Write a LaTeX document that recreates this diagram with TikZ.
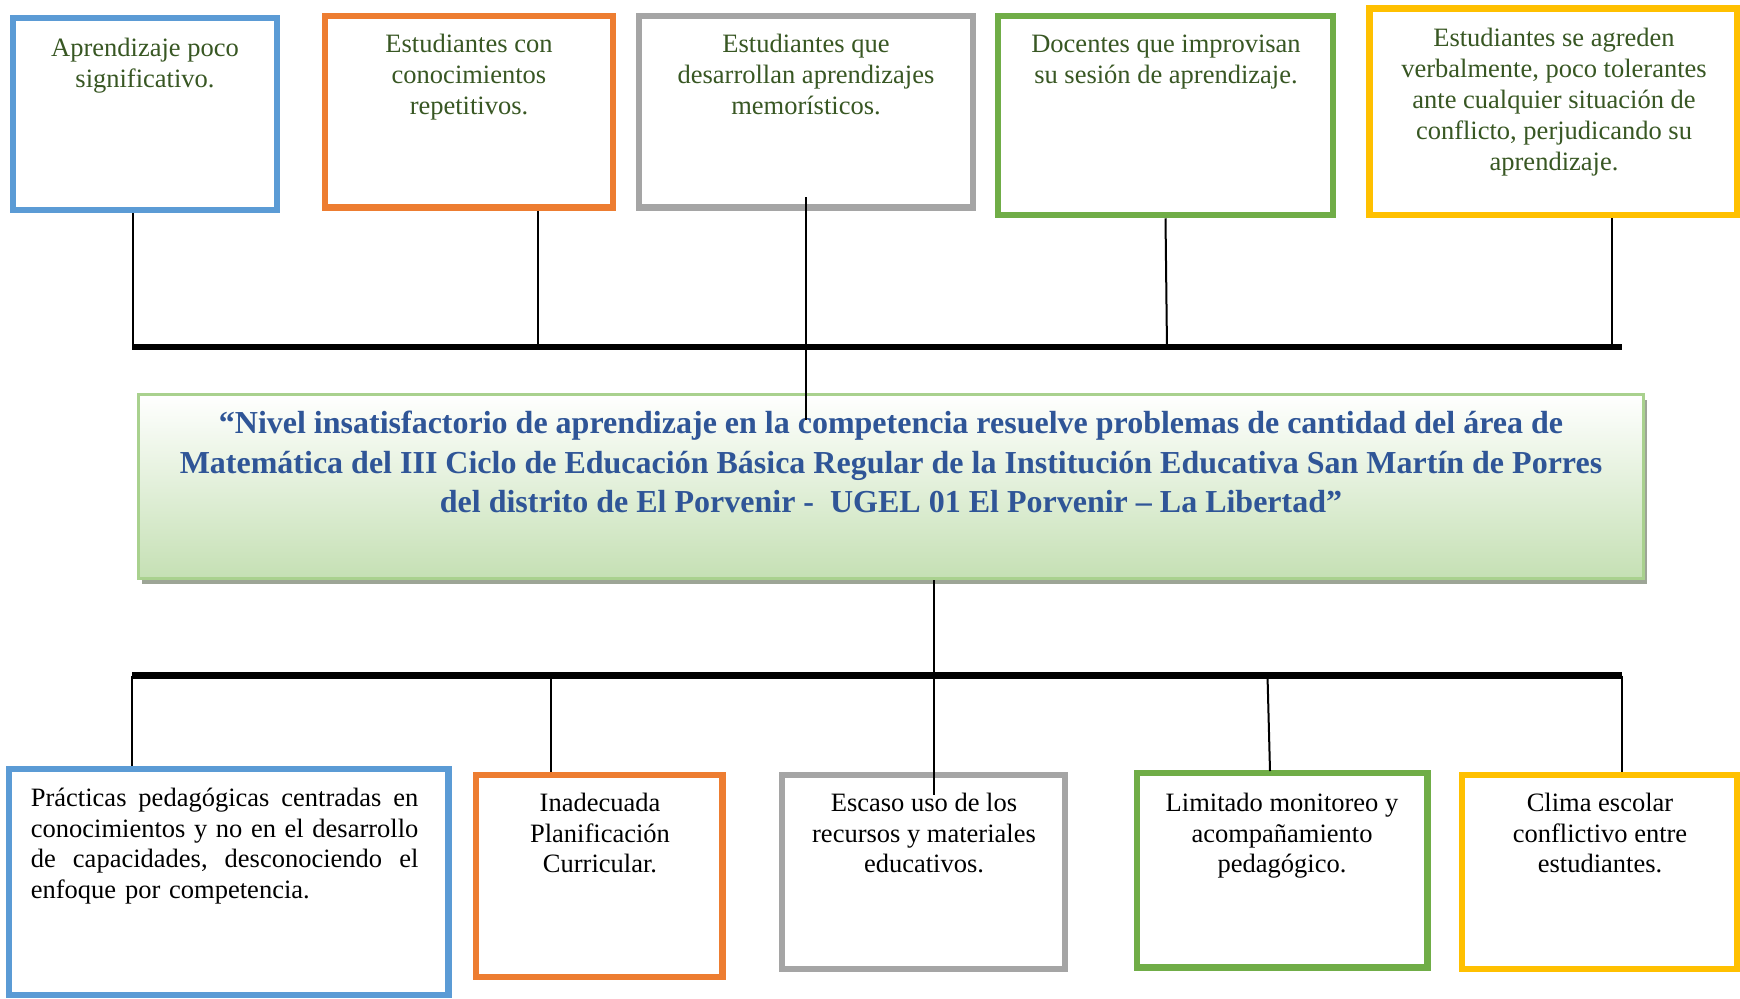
\documentclass[tikz,border=0pt]{standalone}
\usepackage{fontspec}
\setmainfont{Liberation Serif}
\usetikzlibrary{calc,shadows}
\definecolor{cblue}{HTML}{5B9BD5}
\definecolor{corange}{HTML}{ED7D31}
\definecolor{cgray}{HTML}{A5A5A5}
\definecolor{cgreen}{HTML}{70AD47}
\definecolor{cyellow}{HTML}{FFC000}
\definecolor{tgreen}{HTML}{385723}
\definecolor{tblue}{HTML}{2F5597}
\definecolor{lgreen}{HTML}{A9D18E}
\definecolor{fgreen}{HTML}{C5E0B4}
\definecolor{shadowc}{HTML}{9DA596}
\newcommand\jline[1]{\leavevmode\hbox to 193.75pt{#1}}
\tikzset{
  cbox/.style={draw=#1, line width=3.25pt, fill=white, rectangle, inner sep=0pt},
  toptext/.style={font=\fontsize{13.25}{15.5}\selectfont, text=tgreen, align=center, inner sep=0pt, anchor=north},
  bottext/.style={font=\fontsize{13.25}{15.25}\selectfont, text=black, align=center, inner sep=0pt, anchor=north},
  bus/.style={line width=3.4pt, black},
  conn/.style={line width=1pt, black},
}
\begin{document}
\begin{tikzpicture}[x=0.5pt,y=-0.5pt]
\useasboundingbox (0,0) rectangle (1740,998);
% top boxes
\node[cbox=cblue,   minimum width=132pt,   minimum height=96pt]    (t1) at (145,114) {};
\node[cbox=corange, minimum width=144pt,   minimum height=95.75pt] (t2) at (469,111.75) {};
\node[cbox=cgray,   minimum width=167pt,   minimum height=95.75pt] (t3) at (806,111.75) {};
\node[cbox=cgreen,  minimum width=167.5pt, minimum height=99.5pt]  (t4) at (1165.5,115.5) {};
\node[cbox=cyellow, minimum width=183.75pt,minimum height=103.25pt](t5) at (1553.25,111.75) {};
\node[toptext] (tt1) at (145,38) {Aprendizaje poco\\significativo.};
\node[toptext] (tt2) at (469,34) {Estudiantes con\\conocimientos\\repetitivos.};
\node[toptext] (tt3) at (806,34) {Estudiantes que\\desarrollan aprendizajes\\memorísticos.};
\node[toptext] (tt4) at (1166,35) {Docentes que improvisan\\su sesión de aprendizaje.};
\node[toptext] (tt5) at (1554,27.5) {Estudiantes se agreden\\verbalmente, poco tolerantes\\ante cualquier situación de\\conflicto, perjudicando su\\aprendizaje.};
% central box
\node[draw=lgreen, line width=1.5pt, top color=white, bottom color=fgreen,
      minimum width=752.5pt, minimum height=92pt, inner sep=0pt,
      drop shadow={shadow xshift=1.8pt, shadow yshift=-2.8pt, fill=shadowc, opacity=1}] (main) at (891,486.5) {};
\node[font=\bfseries\fontsize{16}{19.75}\selectfont, text=tblue, align=center, inner sep=0pt, anchor=north] (title) at (891,411)
 {“Nivel insatisfactorio de aprendizaje en la competencia resuelve problemas de cantidad del área de\\
  Matemática del III Ciclo de Educación Básica Regular de la Institución Educativa San Martín de Porres\\
  del distrito de El Porvenir -\ \ UGEL 01 El Porvenir – La Libertad”};
% top bus and connectors
\coordinate (tbL) at (132,347);
\coordinate (tbR) at (1622,347);
\coordinate (j1) at (132.6,347);
\coordinate (j2) at (538,347);
\coordinate (j3a) at (805.5,197);
\coordinate (j3b) at (805.5,420);
\coordinate (j4) at (1167,349);
\coordinate (j5) at (1611.5,347);
\draw[conn] (t1.south -| j1) -- (j1);
\draw[conn] (t2.south -| j2) -- (j2);
\draw[conn] (t4.south) -- (j4);
\draw[conn] (t5.south -| j5) -- (j5);
\draw[bus] (tbL) -- (tbR);
\draw[conn] (j3a) -- (j3b);
% bottom boxes
\node[cbox=cblue,   minimum width=219.75pt, minimum height=113pt]   (b1) at (228.75,882) {};
\node[cbox=corange, minimum width=123.25pt, minimum height=101pt]   (b2) at (599.25,876) {};
\node[cbox=cgray,   minimum width=141.5pt,  minimum height=97pt]    (b3) at (923.5,872) {};
\node[cbox=cgreen,  minimum width=145.25pt, minimum height=97.25pt] (b4) at (1282.25,870.25) {};
\node[cbox=cyellow, minimum width=137.5pt,  minimum height=97pt]    (b5) at (1599.5,872) {};
\node[bottext, anchor=north west, align=left, text width=193.75pt] (bt1) at (30.5,788)
 {\jline{Prácticas\hfil pedagógicas\hfil centradas\hfil en}\\
  \jline{conocimientos\hfil y\hfil no\hfil en\hfil el\hfil desarrollo}\\
  \jline{de\hfil capacidades,\hfil desconociendo\hfil el}\\
  enfoque por competencia.};
\node[bottext] (bt2) at (600,793) {Inadecuada\\Planificación\\Curricular.};
\node[bottext] (bt3) at (924,793) {Escaso uso de los\\recursos y materiales\\educativos.};
\node[bottext] (bt4) at (1282,793) {Limitado monitoreo y\\acompañamiento\\pedagógico.};
\node[bottext] (bt5) at (1600,793) {Clima escolar\\conflictivo entre\\estudiantes.};
% bottom bus and connectors
\coordinate (bbL) at (132,675.5);
\coordinate (bbR) at (1622,675.5);
\coordinate (k0) at (934,580);
\coordinate (k0b) at (934,795);
\coordinate (k1) at (132,675.5);
\coordinate (k2) at (551,675.5);
\coordinate (k4) at (1267.5,675.5);
\coordinate (k4b) at (1270,771);
\coordinate (k5) at (1622,675.5);
\draw[bus, line width=3.1pt] (bbL) -- (bbR);
\draw[conn] (k1) -- (k1 |- b1.north);
\draw[conn] (k2) -- (k2 |- b2.north);
\draw[conn] (k4) -- (k4b);
\draw[conn] (k5) -- (k5 |- b5.north);
\draw[conn] (main.south -| k0) -- (k0b);
\end{tikzpicture}
\end{document}
